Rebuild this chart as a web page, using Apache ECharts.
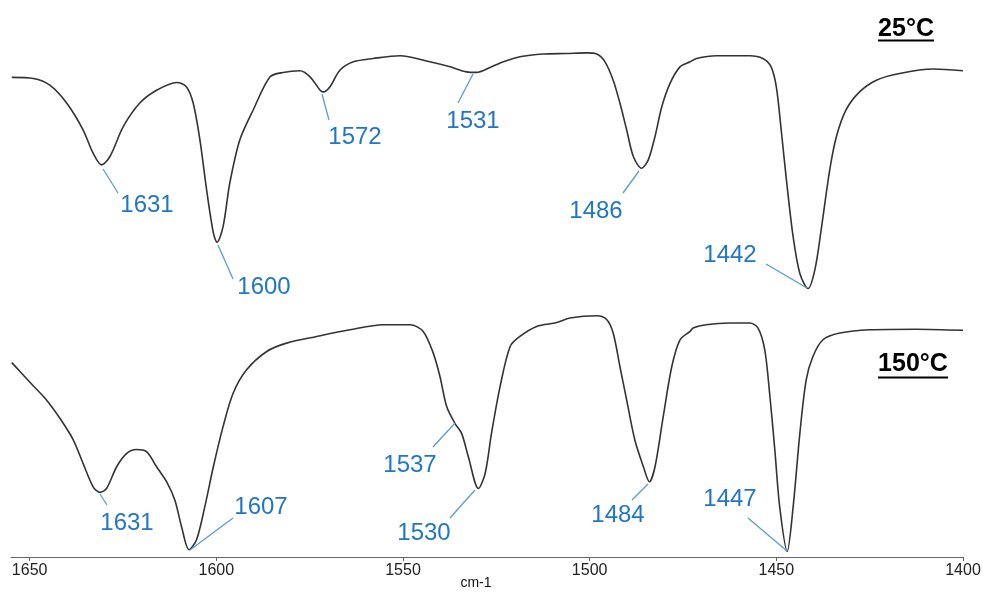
<!DOCTYPE html>
<html>
<head>
<meta charset="utf-8">
<script src="https://cdn.jsdelivr.net/npm/echarts@6/dist/echarts.min.js"></script>
<style>
html,body{margin:0;padding:0;background:#fff;}
#chart{width:983px;height:592px;}
</style>
</head>
<body>
<div id="chart"></div>
<script>
// Wavenumbers (cm-1) and relative transmittance (offset spectra, a.u.)
const wn25 = [1654.8,1649.0,1644.6,1640.1,1635.7,1633.0,1630.7,1628.5,1624.9,1620.5,1616.0,1610.6,1608.0,1606.2,1604.4,1602.6,1600.8,1599.8,1598.2,1596.4,1593.7,1590.1,1585.6,1582.1,1577.6,1574.9,1572.2,1571.4,1569.6,1566.9,1563.3,1558.0,1550.8,1542.8,1537.4,1533.0,1530.3,1526.7,1523.1,1518.7,1512.4,1506.2,1500.8,1498.1,1495.9,1493.7,1491.9,1490.1,1488.3,1486.1,1484.3,1482.5,1480.7,1478.5,1475.8,1473.1,1471.4,1466.1,1457.1,1453.6,1451.4,1450.0,1448.7,1447.3,1445.5,1443.7,1441.5,1439.7,1438.0,1435.7,1433.9,1431.3,1427.7,1423.2,1417.0,1408.0,1400.0];
const tr25 = [86.1,85.9,84.7,81.5,76.7,72.5,70.4,71.9,77.3,81.5,83.8,85.2,84.4,81.5,74.9,65.9,58.2,56.5,59.3,67.1,74.9,80.3,86.2,87.0,87.3,86.2,83.8,83.5,84.4,87.4,88.9,89.5,90.0,88.9,88.0,87.1,87.0,87.9,88.9,89.8,90.3,90.4,90.5,90.3,88.9,85.6,81.5,76.7,71.9,69.8,71.3,75.5,80.8,85.0,88.0,88.9,89.5,90.0,90.0,89.5,88.0,84.4,76.7,67.7,57.5,50.9,48.2,51.5,58.7,69.5,75.5,80.3,83.5,85.6,86.8,87.6,87.3];
const wn150 = [1654.8,1652.6,1649.0,1645.5,1641.9,1638.3,1635.7,1633.0,1631.2,1629.4,1626.7,1624.0,1621.4,1618.7,1616.0,1613.3,1611.1,1609.3,1607.3,1605.3,1603.1,1600.8,1598.2,1595.5,1591.9,1586.5,1581.2,1573.1,1564.2,1555.3,1548.1,1544.6,1541.9,1540.1,1538.3,1536.1,1534.3,1532.5,1529.8,1528.0,1526.3,1524.0,1521.3,1518.7,1514.2,1508.8,1505.3,1498.1,1495.4,1493.7,1491.9,1490.1,1487.9,1485.6,1484.0,1482.5,1480.3,1478.0,1475.8,1473.1,1472.3,1468.8,1462.5,1457.1,1454.9,1453.1,1451.8,1450.4,1449.1,1447.1,1445.5,1443.7,1442.0,1440.2,1437.5,1433.0,1425.0,1412.5,1400.0];
const tr150 = [34.9,33.3,30.7,28.2,24.9,21.0,16.8,12.6,11.6,12.3,16.2,18.6,19.3,18.9,16.2,13.5,10.2,5.4,1.3,3.1,9.0,16.2,23.4,29.4,33.6,36.9,38.4,39.6,40.8,41.7,41.7,40.5,36.6,32.4,27.0,24.0,22.2,18.0,12.3,15.0,22.2,30.6,37.8,39.6,41.4,42.1,42.9,43.3,42.6,40.2,34.2,28.2,21.0,16.2,13.5,16.2,25.2,34.2,39.0,40.5,41.1,41.7,42.0,42.0,41.1,37.2,29.4,19.2,9.0,1.0,9.0,22.2,31.8,36.0,39.0,40.2,40.8,40.9,40.7];
const tickValues = [1400,1450,1500,1550,1600,1650];
const seriesNames = ['25°C','150°C'];
const peaks25 = ['1631','1600','1572','1531','1486','1442'];
const peaks150 = ['1631','1607','1537','1530','1484','1447'];
const axisName = 'cm-1';

// annotation layout (pixels): label centre and leader line ends
const layout25 = [
  {c:[147,205], l:[103,169,118,193]},
  {c:[264,287], l:[218,245,233,279]},
  {c:[355,137], l:[322,94,329,120]},
  {c:[473,121], l:[473,74,458,103]},
  {c:[596,211], l:[639,171,623,193]},
  {c:[730,255], l:[807,288,766,264]}
];
const layout150 = [
  {c:[127,523], l:[100,494,107,505]},
  {c:[261,507], l:[190,550,233,518]},
  {c:[410,465], l:[455,423,433,447]},
  {c:[424,533], l:[475,490,450,518]},
  {c:[618,515], l:[648,484,632,500]},
  {c:[730,499], l:[787,551,748,518]}
];
const titleLayout = [
  {c:[906,29], u:[878,40.5,934,40.5]},
  {c:[913,364], u:[878,377.5,948,377.5]}
];

const FONT = "'Liberation Sans', Arial, sans-serif";
const LABEL_BLUE = '#1f76c8';
const LEADER_BLUE = '#5b9bd5';

const chart = echarts.init(document.getElementById('chart'), null, {renderer:'canvas'});

const graphics = [];
function addAnnots(texts, lay){
  texts.forEach((t,i)=>{
    const L = lay[i];
    graphics.push({type:'line', silent:true, z:10,
      shape:{x1:L.l[0],y1:L.l[1],x2:L.l[2],y2:L.l[3]},
      style:{stroke:LEADER_BLUE, lineWidth:1.3}});
    graphics.push({type:'text', silent:true, z:10, x:L.c[0], y:L.c[1],
      style:{text:t, fill:LABEL_BLUE, font:'24px '+FONT, align:'center', verticalAlign:'middle'}});
  });
}
addAnnots(peaks25, layout25);
addAnnots(peaks150, layout150);
seriesNames.forEach((n,i)=>{
  const L = titleLayout[i];
  graphics.push({type:'text', silent:true, z:10, x:L.c[0], y:L.c[1],
    style:{text:n, fill:'#000', font:'bold 25px '+FONT, align:'center', verticalAlign:'middle'}});
  graphics.push({type:'line', silent:true, z:10,
    shape:{x1:L.u[0],y1:L.u[1],x2:L.u[2],y2:L.u[3]},
    style:{stroke:'#000', lineWidth:2}});
});

const mk = (w,v)=>w.map((x,i)=>[x,v[i]]);

chart.setOption({
  animation:false,
  backgroundColor:'#fff',
  grid:{left:11, right:20, top:0, bottom:35, containLabel:false, outerBoundsMode:'none'},
  xAxis:{
    type:'value', inverse:true, min:1400, max:1655, interval:50,
    name:axisName, nameLocation:'middle', nameGap:19, nameMoveOverlap:false,
    nameTextStyle:{color:'#111', fontSize:14, fontFamily:FONT, padding:[0,22,0,0]},
    axisLine:{show:true, onZero:false, lineStyle:{color:'#666', width:1}},
    axisTick:{show:true, length:4, customValues:tickValues, lineStyle:{color:'#666'}},
    axisLabel:{customValues:tickValues, color:'#222', fontSize:16, fontFamily:FONT, margin:6,
      formatter:(v)=>String(v)},
    splitLine:{show:false}
  },
  yAxis:{type:'value', min:0, max:100, show:false, splitLine:{show:false}},
  series:[
    {name:seriesNames[0], type:'line', data:mk(wn25,tr25), showSymbol:false, smooth:0.3,
     lineStyle:{color:'#333', width:1.6}, silent:true},
    {name:seriesNames[1], type:'line', data:mk(wn150,tr150), showSymbol:false, smooth:0.3,
     lineStyle:{color:'#333', width:1.6}, silent:true}
  ],
  graphic:graphics
});
</script>
</body>
</html>
